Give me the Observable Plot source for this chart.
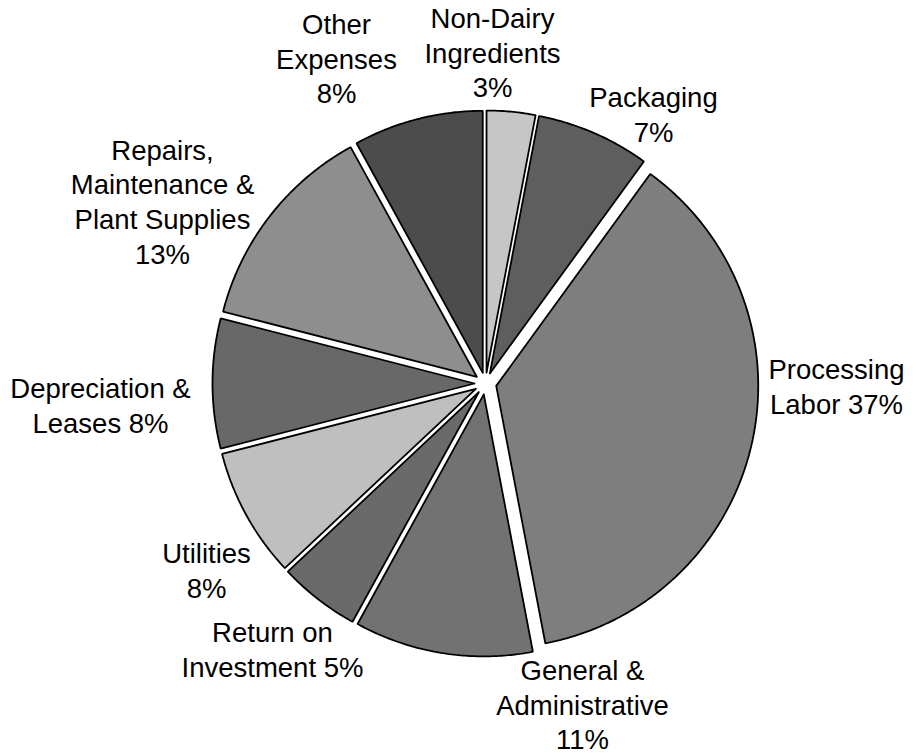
<!DOCTYPE html>
<html>
<head>
<meta charset="utf-8">
<script src="https://cdn.jsdelivr.net/npm/d3@7"></script>
<script src="https://cdn.jsdelivr.net/npm/@observablehq/plot@0.6"></script>
<style>
  html, body { margin: 0; padding: 0; background: #fff; }
  #chart { width: 914px; height: 756px; }
</style>
</head>
<body>
<div id="chart"></div>
<script>
// ---- data (clockwise from 12 o'clock) ----
const categories = [
  "Non-Dairy Ingredients", "Packaging", "Processing Labor",
  "General & Administrative", "Return on Investment", "Utilities",
  "Depreciation & Leases", "Repairs, Maintenance & Plant Supplies", "Other Expenses"
];
const values = [3, 7, 37, 11, 5, 8, 8, 13, 8];
// wrapped label text (percentage appended)
const labelLines = [
  "Non-Dairy\nIngredients", "Packaging", "Processing\nLabor",
  "General &\nAdministrative", "Return on\nInvestment", "Utilities",
  "Depreciation &\nLeases", "Repairs,\nMaintenance &\nPlant Supplies", "Other\nExpenses"
];
const pctOnNewLine = [true, true, false, true, false, true, false, true, true];
const sliceGrays = ["#c6c6c6", "#5e5e5e", "#7e7e7e", "#727272", "#6a6a6a", "#bfbfbf", "#686868", "#8e8e8e", "#4c4c4c"];

// ---- layout ----
const W = 914, H = 756;
const cx = 485, cy = 383;      // pie centre in pixels
const R = 262, explode = 11;
// label anchor offsets from pie centre (pixels, y down)
const labelOffset = [
  [7, -332], [168, -270], [351, 2], [97, 320], [-213, 265],
  [-279, 186], [-385, 21], [-323, -183], [-149, -326]
];

const total = d3.sum(values);
const slicePts = [];
let acc = 0;
values.forEach((v, i) => {
  const a0 = acc / total * 2 * Math.PI;
  acc += v;
  const a1 = acc / total * 2 * Math.PI;
  const am = (a0 + a1) / 2;
  const ox = explode * Math.sin(am), oy = -explode * Math.cos(am);
  slicePts.push({i, x: ox, y: oy});
  const n = Math.max(4, Math.ceil((a1 - a0) / (Math.PI / 360)));
  for (let k = 0; k <= n; k++) {
    const a = a0 + (a1 - a0) * k / n;
    slicePts.push({i, x: ox + R * Math.sin(a), y: oy - R * Math.cos(a)});
  }
  slicePts.push({i, x: ox, y: oy});
});

const labelData = values.map((v, i) => ({
  text: labelLines[i] + (pctOnNewLine[i] ? "\n" : " ") + v + "%",
  x: labelOffset[i][0],
  y: labelOffset[i][1]
}));

const sliceMarks = values.map((v, i) =>
  Plot.line(slicePts.filter(d => d.i === i), {
    x: "x", y: "y",
    fill: sliceGrays[i],
    stroke: "#000",
    strokeWidth: 1.8,
    strokeLinejoin: "miter",
    curve: "linear"
  })
);

const chart = Plot.plot({
  width: W,
  height: H,
  margin: 0,
  style: {background: "#fff", overflow: "visible"},
  x: {domain: [-cx, W - cx], range: [0, W], axis: null},
  y: {domain: [-cy, H - cy], range: [0, H], axis: null},
  marks: [
    ...sliceMarks,
    Plot.text(labelData, {
      x: "x", y: "y", text: "text",
      fill: "#000",
      fontSize: 27.5,
      lineHeight: 1.26,
      fontFamily: "'Liberation Sans', Arial, sans-serif",
      textAnchor: "middle"
    })
  ]
});
document.getElementById("chart").appendChild(chart);
</script>
</body>
</html>
